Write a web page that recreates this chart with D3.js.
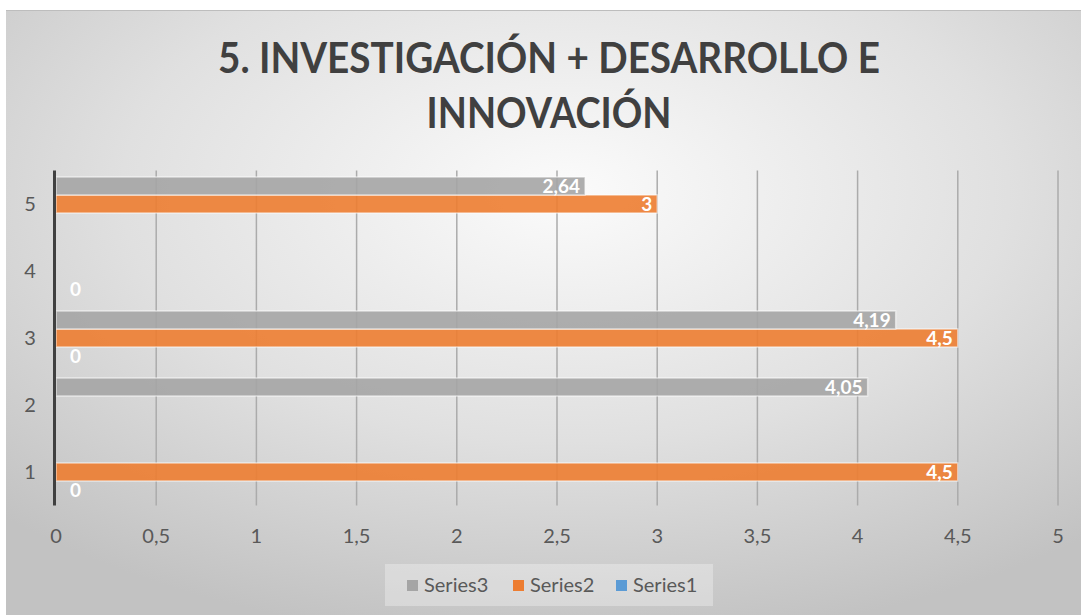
<!DOCTYPE html>
<html>
<head>
<meta charset="utf-8">
<script src="https://cdn.jsdelivr.net/npm/d3@7"></script>
<style>
  html, body { margin: 0; padding: 0; background: #fff; }
  svg { display: block; }
</style>
</head>
<body>
<svg id="chart" width="1081" height="615"></svg>
<script>
// Chart data
var categories = ["1", "2", "3", "4", "5"];
var seriesNames = ["Series1", "Series2", "Series3"];
var series1 = [0, null, 0, 0, null];
var series2 = [4.5, null, 4.5, null, 3];
var series3 = [null, 4.05, 4.19, null, 2.64];
var xTicks = [0, 0.5, 1, 1.5, 2, 2.5, 3, 3.5, 4, 4.5, 5];
var titleLines = ["5. INVESTIGACIÓN + DESARROLLO E", "INNOVACIÓN"];
var colors = { Series1: "#5b9bd5", Series2: "#ed7d31", Series3: "#a5a5a5" };

var values = { Series1: series1, Series2: series2, Series3: series3 };

var svg = d3.select("#chart");
var W = 1081, H = 615;
var plot = { left: 56, right: 1058, top: 170.5, bottom: 505.5 };
var font = "Lato, 'Open Sans', sans-serif";

// background gradient
var defs = svg.append("defs");
var grad = defs.append("radialGradient").attr("id", "bg")
    .attr("cx", "52%").attr("cy", "30%").attr("r", "75%");
grad.append("stop").attr("offset", "0%").attr("stop-color", "#fbfbfb");
grad.append("stop").attr("offset", "55%").attr("stop-color", "#e0e0e0");
grad.append("stop").attr("offset", "100%").attr("stop-color", "#c2c2c2");

svg.append("rect").attr("x", 6).attr("y", 10).attr("width", W - 6).attr("height", H - 10)
    .attr("fill", "url(#bg)");
svg.append("line").attr("x1", 6).attr("x2", W).attr("y1", 10.5).attr("y2", 10.5)
    .attr("stroke", "#bdbdbd").attr("stroke-width", 1);

// scales
var x = d3.scaleLinear().domain([0, 5]).range([plot.left, plot.right]);
var y = d3.scaleBand().domain(categories.slice().reverse())
    .range([plot.top, plot.bottom]).paddingInner(0.194).paddingOuter(0.097);
var ySub = d3.scaleBand().domain(["Series3", "Series2", "Series1"])
    .range([0, y.bandwidth()]);

// gridlines
svg.append("g").selectAll("line").data(xTicks.slice(1)).enter().append("line")
    .attr("x1", function(d) { return x(d); }).attr("x2", function(d) { return x(d); })
    .attr("y1", plot.top).attr("y2", plot.bottom)
    .attr("stroke", "#ababab").attr("stroke-width", 1.5);

// bars
var bars = [];
seriesNames.forEach(function(s) {
    values[s].forEach(function(v, i) {
        if (v !== null) bars.push({ s: s, cat: categories[i], v: v });
    });
});

svg.append("g").selectAll("rect").data(bars).enter().append("rect")
    .attr("x", x(0))
    .attr("y", function(d) { return y(d.cat) + ySub(d.s); })
    .attr("width", function(d) { return x(d.v) - x(0); })
    .attr("height", ySub.bandwidth())
    .attr("fill", function(d) { return colors[d.s]; })
    .attr("fill-opacity", 0.9)
    .attr("stroke", "rgba(255,255,255,0.55)").attr("stroke-width", 1.5);

// data labels
svg.append("g").selectAll("text").data(bars).enter().append("text")
    .attr("x", function(d) { return Math.max(x(d.v) - 5, x(0) + 25); })
    .attr("y", function(d) { return y(d.cat) + ySub(d.s) + ySub.bandwidth() / 2 + 7; })
    .attr("text-anchor", "end")
    .attr("font-family", font)
    .attr("font-weight", "bold").attr("font-size", 19)
    .attr("fill", "#fff")
    .text(function(d) { return String(d.v).replace(".", ","); });

// vertical axis line
svg.append("line").attr("x1", plot.left - 1.5).attr("x2", plot.left - 1.5)
    .attr("y1", plot.top).attr("y2", plot.bottom)
    .attr("stroke", "#404040").attr("stroke-width", 3);

// category labels
svg.append("g").selectAll("text").data(categories).enter().append("text")
    .attr("x", 30).attr("y", function(d) { return y(d) + y.bandwidth() / 2 + 7; })
    .attr("text-anchor", "middle")
    .attr("font-family", font).attr("font-size", 20)
    .attr("fill", "#595959")
    .text(function(d) { return d; });

// x tick labels
svg.append("g").selectAll("text").data(xTicks).enter().append("text")
    .attr("x", function(d) { return x(d); }).attr("y", 543)
    .attr("text-anchor", "middle")
    .attr("font-family", font).attr("font-size", 20)
    .attr("fill", "#595959")
    .text(function(d) { return String(d).replace(".", ","); });

// title
var titleWidths = [662, 245];
svg.append("g").selectAll("text").data(titleLines).enter().append("text")
    .attr("x", 549).attr("y", function(d, i) { return 73 + i * 55; })
    .attr("text-anchor", "middle")
    .attr("font-family", font)
    .attr("font-weight", "bold").attr("font-size", 42)
    .attr("textLength", function(d, i) { return titleWidths[i]; })
    .attr("lengthAdjust", "spacingAndGlyphs")
    .attr("fill", "#404040")
    .text(function(d) { return d; });

// legend
var legend = svg.append("g");
legend.append("rect").attr("x", 385).attr("y", 564).attr("width", 328).attr("height", 42)
    .attr("fill", "rgba(255,255,255,0.3)");
var legendItems = [
    { s: "Series3", x: 407 },
    { s: "Series2", x: 513 },
    { s: "Series1", x: 616 }
];
legendItems.forEach(function(d) {
    legend.append("rect").attr("x", d.x).attr("y", 580).attr("width", 11).attr("height", 11)
        .attr("fill", colors[d.s]);
    legend.append("text").attr("x", d.x + 17).attr("y", 592)
        .attr("font-family", font).attr("font-size", 20)
        .attr("fill", "#595959").text(d.s);
});
</script>
</body>
</html>
